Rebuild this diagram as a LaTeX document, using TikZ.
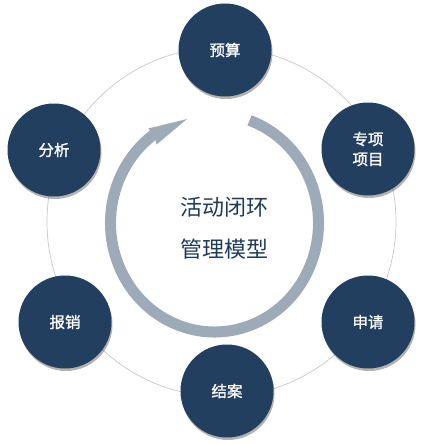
\documentclass[tikz,border=0pt]{standalone}
\usepackage{fontspec}
\newfontfamily\cjk{Noto Sans CJK SC}
\newfontfamily\cjkm{Noto Sans CJK SC}[FakeBold=1.2]
\usetikzlibrary{shadows,calc}
\definecolor{nodeblue}{HTML}{223F60}
\definecolor{arcgray}{HTML}{9DAAB8}
\definecolor{ringgray}{HTML}{C8C8C8}
\definecolor{titleblue}{HTML}{1F3A5A}
\tikzset{
  stage/.style={circle, fill=nodeblue, minimum size=93pt, inner sep=0pt,
    text=white, font=\cjkm\fontsize{15.5pt}{20pt}\selectfont, align=center,
    drop shadow={shadow xshift=1pt, shadow yshift=-2.5pt, opacity=0.3, fill=black}},
  ring/.style={draw=ringgray, line width=0.7pt},
  cyclearrow/.style={draw=arcgray, line width=11pt, line cap=butt},
  cyclehead/.style={fill=arcgray},
  title/.style={text=titleblue, font=\cjk\fontsize{22pt}{26pt}\selectfont}
}
\begin{document}
\begin{tikzpicture}[x=1pt,y=-1pt]
\useasboundingbox (0,0) rectangle (426,444);
% thin ring
\coordinate (rc) at (221.5,222);
\draw[ring] (rc) circle[radius=174.5];
% cycle arrow (ellipse centre)
\coordinate (ac) at (214.5,223);
\path[cyclearrow] ($(ac)+({104*cos(70.3)},{-109*sin(70.3)})$)
  arc[start angle=-70.3, end angle=236, x radius=104, y radius=109];
\coordinate (tip) at (187,119);
\coordinate (m) at (152.5,136.5);
\fill[cyclehead] (tip) -- ($(m)+(-4.1,-8.0)$) -- ($(m)+(1.8,-0.9)$) -- ($(m)+(4.1,8.0)$) -- cycle;
% stages
\node[stage] (ys) at (225,50) {预算};
\node[stage] (zx) at (368,149) {专项\\项目};
\node[stage] (sq) at (368,322) {申请};
\node[stage] (ja) at (227,391) {结案};
\node[stage] (bx) at (65,322) {报销};
\node[stage] (fx) at (54,150) {分析};
% title
\node[title] (t1) at (224,207) {活动闭环};
\node[title] (t2) at (224,249) {管理模型};
\end{tikzpicture}
\end{document}
